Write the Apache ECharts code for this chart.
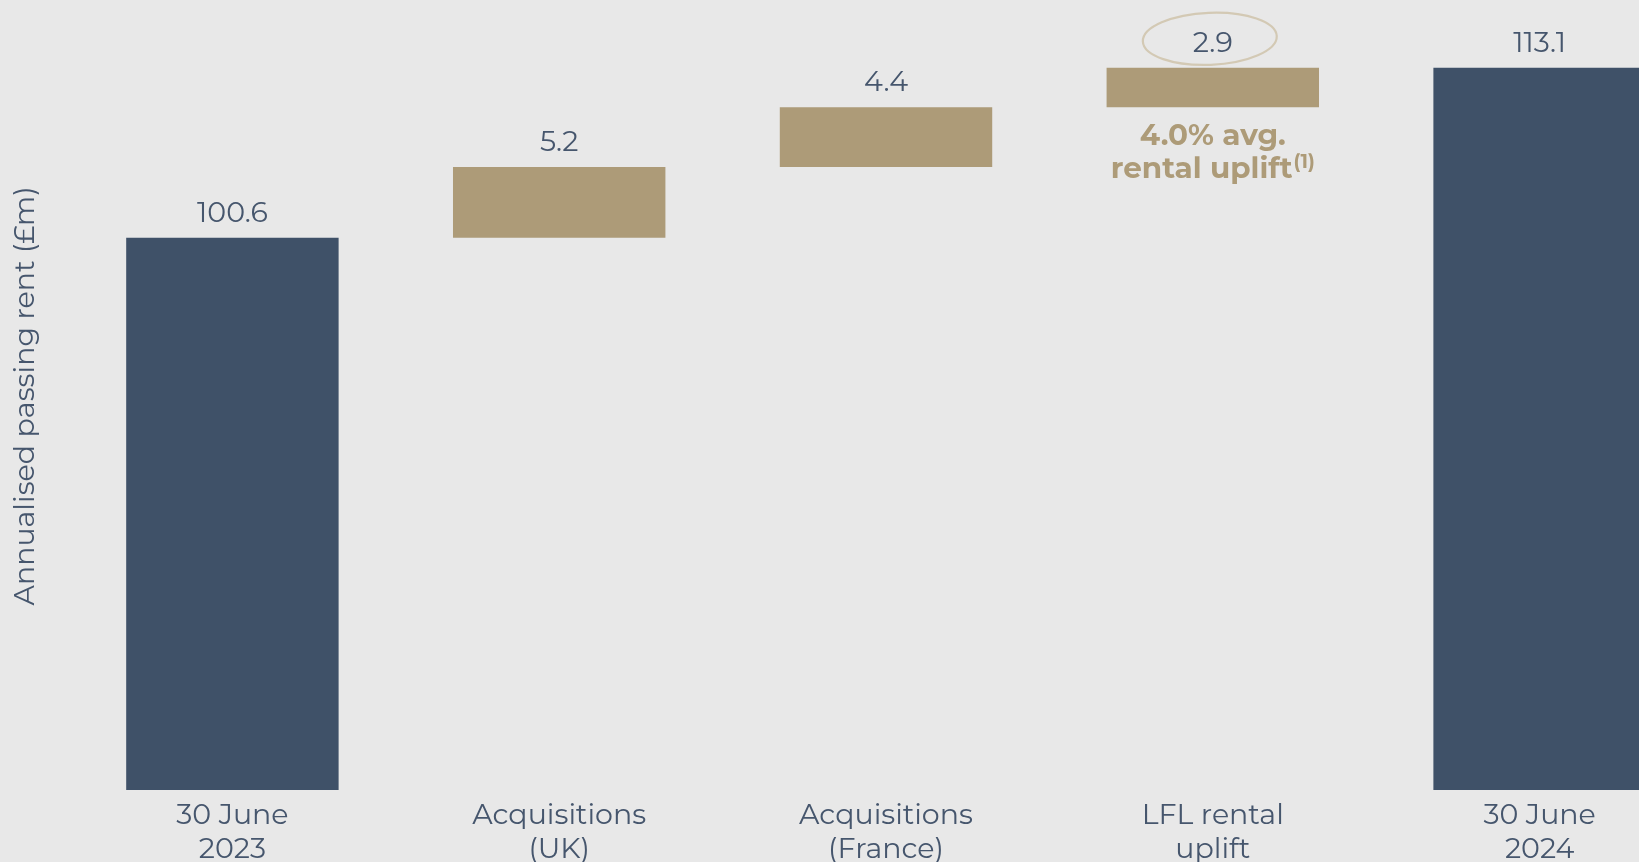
<!DOCTYPE html>
<html>
<head>
<meta charset="utf-8">
<script src="https://cdn.jsdelivr.net/npm/echarts@6/dist/echarts.min.js"></script>
<style>
  html, body { margin: 0; padding: 0; background: #e8e8e8; }
  #chart { width: 1639px; height: 862px; }
</style>
</head>
<body>
<div id="chart"></div>
<script>
// Annualised passing rent bridge, £m
const categories = ['30 June\n2023', 'Acquisitions\n(UK)', 'Acquisitions\n(France)', 'LFL rental\nuplift', '30 June\n2024'];
const totals = [100.6, null, null, null, 113.1];
const increments = [null, 5.2, 4.4, 2.9, null];
const axisName = 'Annualised passing rent (£m)';
const upliftNote = ['4.0% avg.', 'rental uplift', '(1)'];
const noteIndex = 3;

const NAVY = '#3f5168';
const GOLD = '#ad9b78';
const TEXT = '#46566d';
const FONT = 'Montserrat, "Open Sans", "Noto Sans", sans-serif';

// invisible base for each floating step: running total before that step
const bases = [];
let running = 0;
categories.forEach((c, i) => {
  if (totals[i] != null) { running = totals[i]; bases.push(null); }
  else { bases.push(running); running = +(running + increments[i]).toFixed(1); }
});

const baseData = bases.map((v, i) => {
  if (i !== noteIndex) return v;
  return {
    value: v,
    label: {
      show: true,
      position: 'insideTop',
      distance: 12,
      formatter: '{b|' + upliftNote[0] + '}\n{b|' + upliftNote[1] + '}{s|' + upliftNote[2] + '}',
      rich: {
        b: { fontFamily: FONT, fontWeight: 'bold', fontSize: 29.5, color: GOLD, lineHeight: 33.5 },
        s: { fontFamily: FONT, fontWeight: 'bold', fontSize: 19, color: GOLD, lineHeight: 33.5, padding: [0, 0, 14, 1] }
      }
    }
  };
});

const valueLabel = {
  show: true,
  position: 'top',
  distance: 10,
  fontFamily: FONT,
  fontSize: 28.5,
  color: TEXT,
  formatter: p => p.value
};

const chart = echarts.init(document.getElementById('chart'));
chart.setOption({
  backgroundColor: '#e8e8e8',
  animation: false,
  grid: { left: 69, width: 1634, top: 42, bottom: 72, outerBoundsMode: 'none' },
  xAxis: {
    type: 'category',
    data: categories,
    axisLine: { show: false },
    axisTick: { show: false },
    axisLabel: {
      margin: 9,
      fontFamily: FONT,
      fontSize: 28.5,
      lineHeight: 34,
      color: TEXT,
      interval: 0
    }
  },
  yAxis: {
    type: 'value',
    min: 60,
    max: 115,
    show: false,
    splitLine: { show: false }
  },
  series: [
    {
      name: 'base',
      type: 'bar',
      stack: 'bridge',
      barWidth: '65%',
      itemStyle: { color: 'transparent' },
      silent: true,
      data: baseData
    },
    {
      name: 'increase',
      type: 'bar',
      stack: 'bridge',
      itemStyle: { color: GOLD },
      label: valueLabel,
      data: increments
    },
    {
      name: 'total',
      type: 'bar',
      stack: 'bridge',
      itemStyle: { color: NAVY },
      label: valueLabel,
      data: totals
    }
  ],
  graphic: [
    {
      type: 'text',
      x: 26,
      y: 396,
      rotation: Math.PI / 2,
      style: {
        text: axisName,
        fontFamily: FONT,
        fontSize: 28.5,
        fill: TEXT,
        align: 'center',
        verticalAlign: 'middle'
      }
    }
  ]
});

// hand-drawn ring around the like-for-like uplift value
const lflTop = running;
const pt = chart.convertToPixel({ gridIndex: 0 }, [noteIndex, lflTop]);
chart.setOption({
  graphic: [
    {},
    {
      type: 'ellipse',
      x: pt[0] - 3,
      y: pt[1] - 29,
      rotation: 0.04,
      shape: { cx: 0, cy: 0, rx: 67, ry: 26 },
      style: { fill: 'none', stroke: '#d3c9b4', lineWidth: 2.2 },
      silent: true
    }
  ]
});
</script>
</body>
</html>
